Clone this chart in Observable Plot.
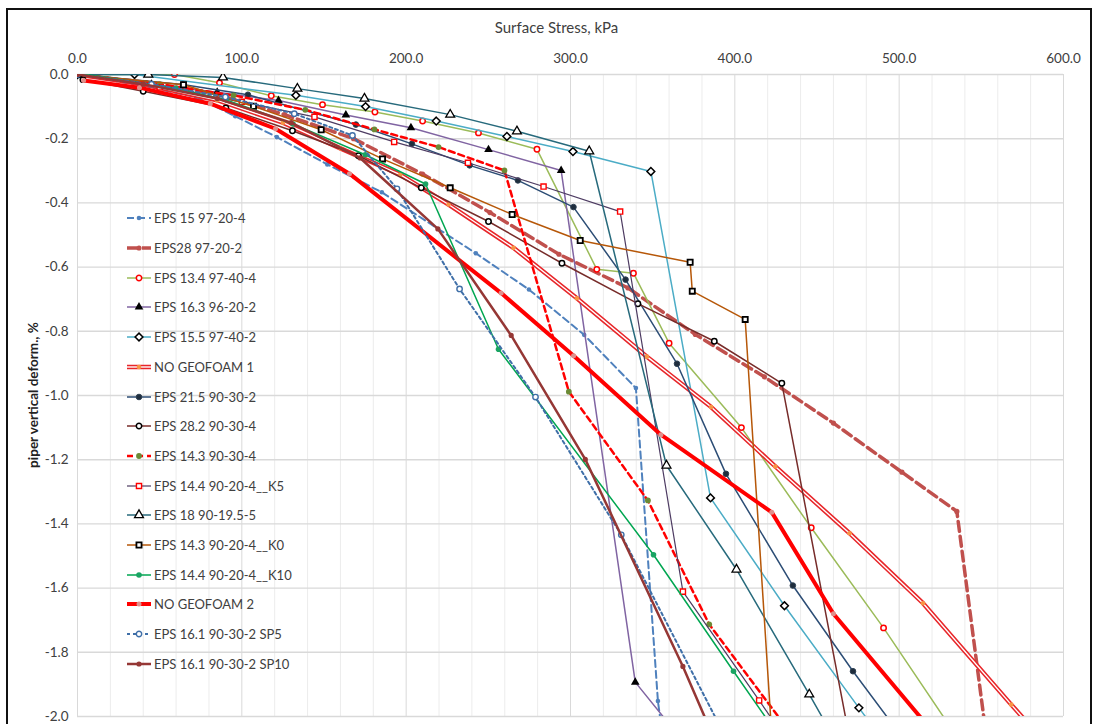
<!DOCTYPE html>
<html><head><meta charset="utf-8">
<script src="https://cdn.jsdelivr.net/npm/d3@7"></script>
<script src="https://cdn.jsdelivr.net/npm/@observablehq/plot@0.6"></script>
<style>
body{margin:0;background:#fff;}
#wrap{position:relative;width:1095px;height:724px;overflow:hidden;font-family:Lato,"Open Sans",sans-serif;color:#404040;}
#border{position:absolute;left:6px;top:8px;width:1086px;height:760px;border:2px solid #111;box-sizing:border-box;}
#chart{position:absolute;left:0;top:0;}
#xtitle{position:absolute;top:18px;left:0;width:1113px;text-align:center;font-size:15px;color:#404040;}
#ytitle{position:absolute;left:33px;top:395px;transform:translate(-50%,-50%) rotate(-90deg);white-space:nowrap;font-size:13.5px;font-weight:bold;color:#222;}
.leg{position:absolute;left:126px;height:18px;display:flex;align-items:center;font-size:13px;color:#404040;white-space:nowrap;}
.leg svg{margin-right:2px;}
</style></head>
<body>
<div id="wrap">
<div id="chart"></div>
<div id="border"></div>
<div id="xtitle">Surface Stress, kPa</div>
<div id="ytitle">piper vertical deform., %</div>
<div id="legend"></div>
</div>
<script>
// ---- tick values ----
const xMajor = [0, 100, 200, 300, 400, 500, 600];
const xMinor = [20,40,60,80,120,140,160,180,220,240,260,280,320,340,360,380,420,440,460,480,520,540,560,580];
const yTicks = [0, -0.2, -0.4, -0.6, -0.8, -1.0, -1.2, -1.4, -1.6, -1.8, -2.0];

// ---- series names ----
const names = ["EPS 15 97-20-4","EPS28 97-20-2","EPS 13.4 97-40-4","EPS 16.3 96-20-2","EPS 15.5 97-40-2","NO GEOFOAM 1","EPS 21.5 90-30-2","EPS 28.2 90-30-4","EPS 14.3 90-30-4","EPS 14.4 90-20-4__K5","EPS 18 90-19.5-5","EPS 14.3 90-20-4__K0","EPS 14.4 90-20-4__K10","NO GEOFOAM 2","EPS 16.1 90-30-2 SP5","EPS 16.1 90-30-2 SP10"];

// ---- series values [stress kPa, deformation %] ----
const eps15 = [[0,0],[40,-0.035],[72,-0.07],[96,-0.13],[121.3,-0.195],[152,-0.28],[185.2,-0.367],[242.4,-0.557],[274.7,-0.67],[308.3,-0.811],[339.8,-0.977],[353.2,-1.952],[357,-2.1]];
const eps28 = [[0,0],[42,-0.025],[84,-0.06],[126,-0.125],[168,-0.2],[210,-0.31],[251,-0.43],[293,-0.56],[335,-0.665],[376,-0.81],[418,-0.942],[460,-1.086],[501.7,-1.239],[535.1,-1.361],[554,-2.1]];
const eps134 = [[0,0],[59,0],[86.4,-0.026],[117.9,-0.066],[149.1,-0.094],[181,-0.117],[210,-0.145],[244,-0.182],[279.6,-0.233],[316,-0.607],[338.3,-0.619],[360,-0.837],[404,-1.1],[446.5,-1.412],[490.5,-1.724],[540,-2.1]];
const eps163 = [[0,0],[45,-0.03],[85,-0.055],[122.3,-0.081],[163.3,-0.126],[202.9,-0.166],[250.1,-0.234],[294.3,-0.299],[339.4,-1.893],[380,-2.15]];
const eps155 = [[0,0],[34.7,0],[132.9,-0.065],[175.3,-0.1],[218.3,-0.145],[261.3,-0.193],[301.5,-0.24],[348.9,-0.302],[385.2,-1.319],[430.2,-1.655],[475.5,-1.973],[494,-2.1]];
const noGeo1 = [[0,0],[40,-0.03],[85,-0.08],[125,-0.15],[160,-0.23],[196.4,-0.312],[225.8,-0.405],[265.3,-0.54],[303.9,-0.697],[346.5,-0.879],[385.6,-1.036],[424.6,-1.221],[469.8,-1.429],[514.5,-1.647],[568.2,-1.963],[592,-2.1]];
const eps215 = [[0,0],[64,-0.031],[103.7,-0.063],[169.4,-0.156],[203.5,-0.216],[238.6,-0.283],[268,-0.33],[301.8,-0.413],[333.5,-0.639],[364.8,-0.901],[394.6,-1.244],[435.3,-1.592],[471.9,-1.859],[507,-2.1]];
const eps282 = [[3.3,-0.016],[40,-0.052],[90.3,-0.104],[130.8,-0.175],[171,-0.253],[209.2,-0.353],[250.1,-0.458],[294.8,-0.588],[341,-0.714],[387.5,-0.831],[428.6,-0.962],[471,-2.1]];
const eps143 = [[0,0],[50,-0.03],[95,-0.065],[138.6,-0.11],[180.7,-0.171],[219.7,-0.226],[259.8,-0.299],[299,-0.988],[347.1,-1.327],[384.4,-1.713],[441,-2.1]];
const k5 = [[0,0],[50,-0.04],[100,-0.085],[144.2,-0.132],[192.7,-0.21],[237.6,-0.275],[283.6,-0.349],[330.2,-0.427],[368.4,-1.611],[414.8,-1.95],[435,-2.1]];
const eps18 = [[0,0],[43.1,0],[88.5,-0.009],[133.8,-0.044],[174.6,-0.075],[226.8,-0.125],[267.4,-0.177],[311.4,-0.239],[358.4,-1.218],[401,-1.542],[445.3,-1.931],[464,-2.1]];
const k0 = [[0,0],[64.5,-0.032],[107.1,-0.099],[148.3,-0.172],[185.6,-0.263],[226.8,-0.353],[264.5,-0.436],[305.9,-0.517],[372.8,-0.585],[374.1,-0.675],[406.3,-0.763],[423,-2.1]];
const k10 = [[5.3,0],[59.9,-0.043],[90.5,-0.079],[131.1,-0.154],[175.1,-0.25],[211.8,-0.341],[256.2,-0.856],[350.5,-1.496],[399.2,-1.859],[432,-2.1]];
const noGeo2 = [[3.7,-0.019],[37.7,-0.041],[80.8,-0.091],[120.5,-0.169],[165.5,-0.309],[257.8,-0.681],[301.9,-0.876],[355,-1.122],[422.5,-1.364],[460,-1.68],[529,-2.1]];
const sp5 = [[0,0],[45,-0.03],[90,-0.07],[131.9,-0.122],[167.3,-0.19],[194.4,-0.356],[232.5,-0.668],[278.7,-1.005],[330.9,-1.434],[403,-2.15]];
const sp10 = [[0,0],[40,-0.03],[85,-0.075],[130,-0.15],[172,-0.26],[219.3,-0.481],[263.9,-0.813],[309,-1.199],[368.4,-1.844],[390,-2.1]];

const values = [eps15, eps28, eps134, eps163, eps155, noGeo1, eps215, eps282, eps143, k5, eps18, k0, k10, noGeo2, sp5, sp10];

// ---- styles ----
const styles = [
  {color:"#4f81bd", w:2, dash:"7,4", symbol:"circle", r:2.3, fill:"#4f81bd"},
  {color:"#c0504d", w:3.5, dash:"10,5", symbol:"circle", r:2.6, fill:"#c0504d"},
  {color:"#9bbb59", w:1.5, symbol:"circle", r:2.7, fill:"#fff", mstroke:"#ff0000", msw:1.5},
  {color:"#8064a2", w:1.5, symbol:"triangle", r:3.2, fill:"#000"},
  {color:"#4bacc6", w:1.5, symbol:"diamond2", r:3.5, fill:"#fff", mstroke:"#000", msw:1.5},
  {color:"#e8262a", w:4.5, double:true, symbol:"circle", r:2.3, fill:"#f79646"},
  {color:"#2c4d75", w:1.5, symbol:"circle", r:2.8, fill:"#1f2d3d", mstroke:"#2c3e50", msw:1},
  {color:"#772c2a", w:1.5, symbol:"circle", r:2.7, fill:"#fff", mstroke:"#000", msw:1.5},
  {color:"#ff0000", w:2.5, dash:"6,4", symbol:"circle", r:2.9, fill:"#6b8a35"},
  {color:"#4d3b62", w:1.2, symbol:"square", r:2.9, fill:"#fff", mstroke:"#ff0000", msw:1.4},
  {color:"#276a7c", w:1.5, symbol:"triangle", r:3.3, fill:"#fff", mstroke:"#000", msw:1.3},
  {color:"#b65708", w:1.5, symbol:"square", r:2.9, fill:"#fff", mstroke:"#000", msw:1.8},
  {color:"#00a651", w:1.5, symbol:"circle", r:2.8, fill:"#1aa463"},
  {color:"#ff0000", w:4, symbol:"circle", r:2.5, fill:"#e0908c"},
  {color:"#3f6fa8", w:2, dash:"3,3", symbol:"circle", r:2.7, fill:"#fff", mstroke:"#3f6fa8", msw:1.4},
  {color:"#953735", w:2.5, symbol:"circle", r:2.6, fill:"#953735"}
];

const marks = [
  Plot.ruleX(xMinor, {stroke:"#ececec", strokeWidth:1}),
  Plot.ruleX(xMajor, {stroke:"#d9d9d9", strokeWidth:1}),
  Plot.ruleY(yTicks, {stroke:"#d9d9d9", strokeWidth:1.4})
];
values.forEach((pts, i) => {
  const s = styles[i];
  const data = pts.map(([x, y]) => ({x, y, name: names[i]}));
  if (s.double) {
    marks.push(Plot.line(data, {x:"x", y:"y", stroke:s.color, strokeWidth:s.w, clip:true}));
    marks.push(Plot.line(data, {x:"x", y:"y", stroke:"#fff", strokeWidth:1.4, clip:true}));
  } else {
    marks.push(Plot.line(data, {x:"x", y:"y", stroke:s.color, strokeWidth:s.w, strokeDasharray:s.dash, clip:true}));
  }
  marks.push(Plot.dot(data, {x:"x", y:"y", symbol:s.symbol, r:s.r, fill:s.fill, stroke:s.mstroke || "none", strokeWidth:s.msw || 1, clip:true}));
});

const fmt = d => d.toFixed(1);
const chart = Plot.plot({
  width: 1095, height: 724,
  marginLeft: 77, marginRight: 32, marginTop: 74, marginBottom: 8,
  style: {fontFamily: "Lato, 'Open Sans', sans-serif", fontSize: "13.5px", color: "#404040", background: "transparent"},
  x: {domain: [0, 600], axis: "top", ticks: xMajor, tickFormat: fmt, tickSize: 0, tickPadding: 12, label: null},
  y: {domain: [-2, 0], ticks: yTicks, tickFormat: fmt, tickSize: 0, tickPadding: 9, label: null},
  marks
});
document.getElementById("chart").appendChild(chart);

// ---- legend ----
const leg = document.getElementById("legend");
const symMap = {circle:d3.symbolCircle, triangle:d3.symbolTriangle, square:d3.symbolSquare, diamond2:d3.symbolDiamond2};
names.forEach((n, i) => {
  const s = styles[i];
  const div = document.createElement("div");
  div.className = "leg";
  div.style.top = (209.3 + i * 29.7) + "px";
  const svg = d3.create("svg").attr("width", 26).attr("height", 18);
  if (s.double) {
    svg.append("line").attr("x1",1).attr("x2",25).attr("y1",9).attr("y2",9).attr("stroke",s.color).attr("stroke-width",s.w);
    svg.append("line").attr("x1",1).attr("x2",25).attr("y1",9).attr("y2",9).attr("stroke","#fff").attr("stroke-width",1.4);
  } else {
    svg.append("line").attr("x1",1).attr("x2",25).attr("y1",9).attr("y2",9).attr("stroke",s.color).attr("stroke-width",s.w).attr("stroke-dasharray", s.dash || null);
  }
  svg.append("path").attr("transform","translate(13,9)")
    .attr("d", d3.symbol(symMap[s.symbol], Math.PI * s.r * s.r)())
    .attr("fill", s.fill).attr("stroke", s.mstroke || "none").attr("stroke-width", s.msw || 1);
  div.appendChild(svg.node());
  const span = document.createElement("span");
  span.textContent = n;
  div.appendChild(span);
  leg.appendChild(div);
});
</script>
</body></html>
